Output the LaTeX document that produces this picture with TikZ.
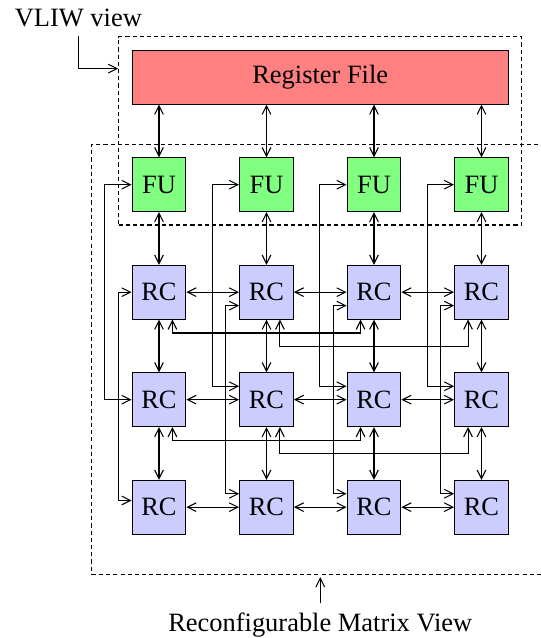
\documentclass[tikz,border=0pt]{standalone}
\usepackage{fontspec}
\newfontfamily\diagfont{Liberation Serif}
\usetikzlibrary{arrows.meta}
\begin{document}
\begin{tikzpicture}[
  font=\diagfont\fontsize{14}{17}\selectfont,
  line width=0.55pt,
  >={Straight Barb[length=4.6pt,width=4.6pt]},
  box/.style={draw, minimum size=1cm, inner sep=0pt},
  fubox/.style={box, fill=green!50},
  rcbox/.style={box, fill=blue!20},
  rfbox/.style={draw, fill=red!50, minimum width=7cm, minimum height=1cm, inner sep=0pt},
  link/.style={<->},
  viewbox/.style={draw, dash pattern=on 2.2pt off 1.6pt, inner sep=0pt},
]
% page frame
\clip (-2.958,1.436) rectangle (7.107,-10.434);

% register file, functional units and reconfigurable cells
\node[rfbox] (rf) at (3,0) {Register File};
\foreach \k in {1,...,4} {
  \pgfmathsetmacro\cx{2*(\k-1)}
  \node[fubox] (fu\k) at (\cx,-2) {FU};
  \foreach \r in {1,2,3} {
    \node[rcbox] (rc\r\k) at (\cx,{-2-2*\r}) {RC};
  }
}

% the two views
\node[viewbox, minimum width=7.5cm, minimum height=3.5cm] (vliw) at (3,-1) {};
\node[viewbox, minimum width=8.5cm, minimum height=8cm] (rcm) at (3,-5.25) {};

% vertical links
\foreach \k in {1,...,4} {
  \draw[link] (rf.south -| fu\k) -- (fu\k.north);
  \draw[link] (fu\k) -- (rc1\k);
  \draw[link] (rc1\k) -- (rc2\k);
  \draw[link] (rc2\k) -- (rc3\k);
}

% horizontal neighbour links
\foreach \r in {1,2,3} {
  \foreach \k/\n in {1/2,2/3,3/4} {
    \draw[link] (rc\r\k) -- (rc\r\n);
  }
}

% FU to second-row cell
\draw[link] (fu1.west) -| ([xshift=-0.5cm]rc21.west) -- (rc21.west);
\foreach \k in {2,3,4} {
  \draw[link] (fu\k.west) -| ([shift={(-0.5cm,0.25cm)}]rc2\k.west) -- ([yshift=0.25cm]rc2\k.west);
}

% first-row cell to third-row cell
\draw[link] (rc11.west) -| ([shift={(-0.25cm,0.125cm)}]rc31.west) -- ([yshift=0.125cm]rc31.west);
\foreach \k in {2,3,4} {
  \draw[link] ([yshift=-0.25cm]rc1\k.west) -| ([shift={(-0.25cm,0.25cm)}]rc3\k.west) -- ([yshift=0.25cm]rc3\k.west);
}

% links skipping one column
\foreach \r in {1,2} {
  \draw[link] ([xshift=0.25cm]rc\r1.south) -- ++(0,-0.25) -| ([xshift=-0.25cm]rc\r3.south);
  \draw[link] ([xshift=0.25cm]rc\r2.south) -- ++(0,-0.5) -| ([xshift=-0.25cm]rc\r4.south);
}

% view labels
\node[anchor=base] (vliwlbl) at (-1.5,0.94) {VLIW view};
\draw[->] ([yshift=-1pt]vliwlbl.south) |- ([yshift=-0.6cm]vliw.north west);
\node[anchor=base] (rcmlbl) at (3,-10.316) {Reconfigurable Matrix View};
\draw[->] ([yshift=1.5pt]rcmlbl.north) -- ([yshift=-1.2pt]rcm.south);
\end{tikzpicture}
\end{document}
